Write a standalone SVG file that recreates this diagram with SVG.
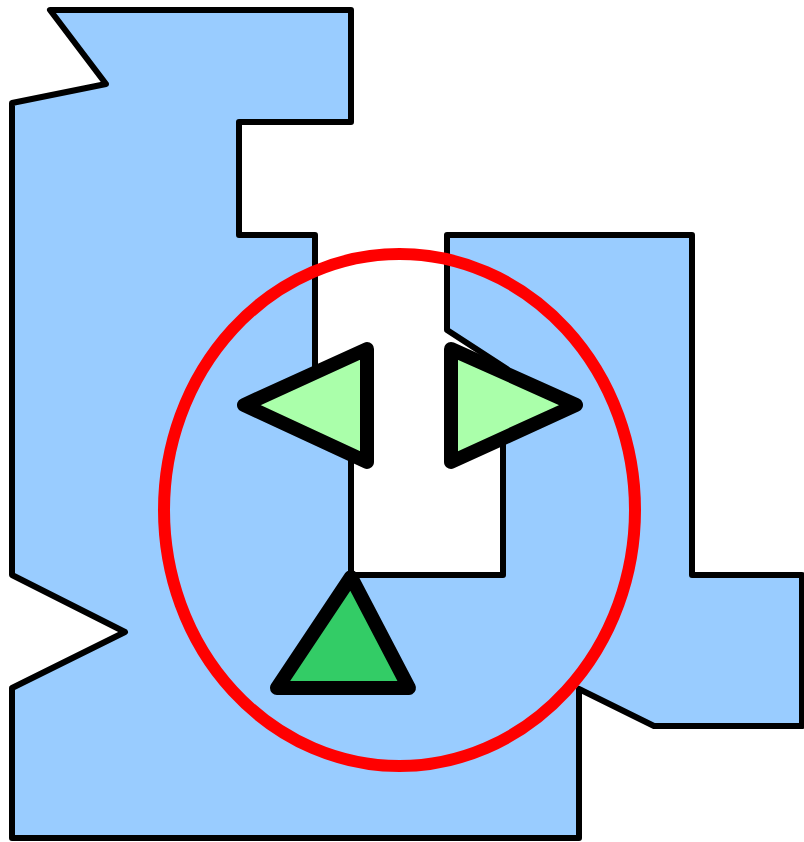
<svg xmlns="http://www.w3.org/2000/svg" width="804" height="842" viewBox="0 0 804 842">
<style>
.tri{stroke:#000;stroke-width:14;stroke-linejoin:round}
</style>
<rect width="804" height="842" fill="#fff"/>
<g id="shape">
<polygon points="50,10 351,10 351,122 239,122 239,235 315,235 315,400 351,420 351,575 503,575 503,430 507,369 447,330 447,235 692,235 692,575 802,575 802,726 654,726 579,689 579,838 12,838 12,688 125,632 12,575 12,103 106,84" fill="#99ccff" stroke="#000" stroke-width="6" stroke-linejoin="round"/>
</g>
<g id="ring">
<ellipse cx="399.5" cy="510" rx="235.5" ry="256" fill="none" stroke="#ff0000" stroke-width="12"/>
</g>
<g id="left-triangle">
<polygon class="tri" points="367,349 244,405 367,462" fill="#aaffaa"/>
</g>
<g id="right-triangle">
<polygon class="tri" points="451,349 576,405 451,462" fill="#aaffaa"/>
</g>
<g id="bottom-triangle">
<polygon class="tri" points="351,577 409,688 277,688" fill="#33cc66"/>
</g>
</svg>
